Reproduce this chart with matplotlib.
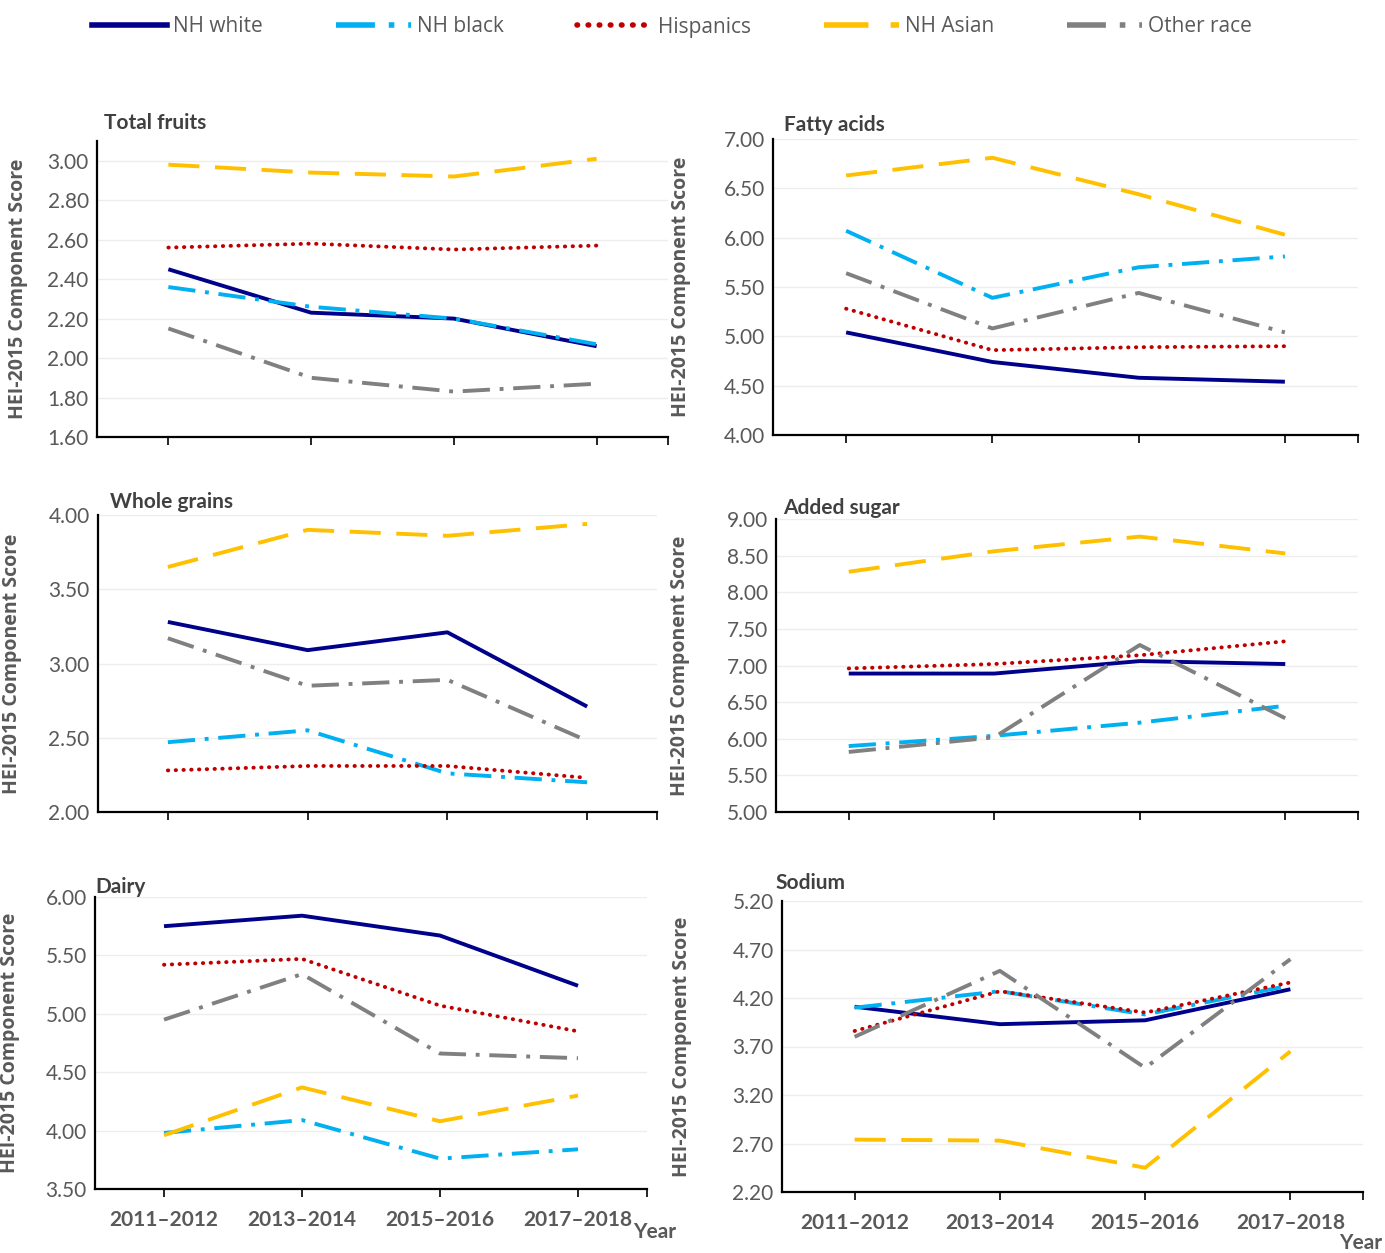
import numpy as np
import matplotlib.pyplot as plt
from matplotlib import font_manager
from matplotlib.lines import Line2D

# --- data -------------------------------------------------------------
years = ["2011\u20132012", "2013\u20132014", "2015\u20132016", "2017\u20132018"]
groups = ["NH white", "NH black", "Hispanics", "NH Asian", "Other race"]

fruits_white = [2.45, 2.23, 2.20, 2.06]
fruits_black = [2.36, 2.26, 2.20, 2.07]
fruits_hisp = [2.56, 2.58, 2.55, 2.57]
fruits_asian = [2.98, 2.94, 2.92, 3.01]
fruits_other = [2.15, 1.90, 1.83, 1.87]

fatty_white = [5.04, 4.74, 4.58, 4.54]
fatty_black = [6.07, 5.39, 5.70, 5.81]
fatty_hisp = [5.28, 4.86, 4.89, 4.90]
fatty_asian = [6.63, 6.81, 6.44, 6.03]
fatty_other = [5.64, 5.08, 5.44, 5.04]

grains_white = [3.28, 3.09, 3.21, 2.71]
grains_black = [2.47, 2.55, 2.26, 2.20]
grains_hisp = [2.28, 2.31, 2.31, 2.23]
grains_asian = [3.65, 3.90, 3.86, 3.94]
grains_other = [3.17, 2.85, 2.89, 2.48]

sugar_white = [6.89, 6.89, 7.06, 7.02]
sugar_black = [5.90, 6.04, 6.22, 6.45]
sugar_hisp = [6.96, 7.02, 7.14, 7.33]
sugar_asian = [8.28, 8.56, 8.76, 8.53]
sugar_other = [5.82, 6.02, 7.28, 6.28]

dairy_white = [5.75, 5.84, 5.67, 5.24]
dairy_black = [3.98, 4.09, 3.76, 3.84]
dairy_hisp = [5.42, 5.47, 5.07, 4.85]
dairy_asian = [3.96, 4.37, 4.08, 4.30]
dairy_other = [4.95, 5.34, 4.66, 4.62]

sodium_white = [4.11, 3.93, 3.97, 4.29]
sodium_black = [4.10, 4.27, 4.03, 4.33]
sodium_hisp = [3.86, 4.27, 4.05, 4.36]
sodium_asian = [2.74, 2.73, 2.45, 3.65]
sodium_other = [3.80, 4.48, 3.48, 4.60]

panels = [
    ("Total fruits", [fruits_white, fruits_black, fruits_hisp, fruits_asian, fruits_other],
     (1.6, 3.1), np.arange(1.6, 3.01, 0.2)),
    ("Fatty acids", [fatty_white, fatty_black, fatty_hisp, fatty_asian, fatty_other],
     (4.0, 7.0), np.arange(4.0, 7.01, 0.5)),
    ("Whole grains", [grains_white, grains_black, grains_hisp, grains_asian, grains_other],
     (2.0, 4.0), np.arange(2.0, 4.01, 0.5)),
    ("Added sugar", [sugar_white, sugar_black, sugar_hisp, sugar_asian, sugar_other],
     (5.0, 9.0), np.arange(5.0, 9.01, 0.5)),
    ("Dairy", [dairy_white, dairy_black, dairy_hisp, dairy_asian, dairy_other],
     (3.5, 6.0), np.arange(3.5, 6.01, 0.5)),
    ("Sodium", [sodium_white, sodium_black, sodium_hisp, sodium_asian, sodium_other],
     (2.2, 5.2), np.arange(2.2, 5.21, 0.5)),
]

# --- styles -----------------------------------------------------------
colors = ["#00008B", "#00B0F0", "#C00000", "#FFC000", "#808080"]
dashes = [None, (7, 2.5, 1, 2.5), (0.1, 1.9), (8, 4), (7, 2.5, 1, 2.5)]
LW = 2.8
GRAY = "#595959"

installed = {f.name for f in font_manager.fontManager.ttflist}
narrow = "Liberation Sans Narrow" if "Liberation Sans Narrow" in installed else "Lato"
label_font = "Open Sans"

W, H = 1385, 1253
fig = plt.figure(figsize=(W / 100, H / 100), dpi=100)

# axes boxes in pixels: left, right, top, bottom
boxes = [(97, 668, 141, 437), (773, 1358, 139, 435),
         (98, 657, 515, 812), (776, 1358, 519, 812),
         (95, 647, 897, 1189), (782, 1363, 901, 1192)]
ylabel_x = [28, 691, 22, 690, 20, 692]
title_pos = [(104, 123), (784, 125), (110, 502), (783, 508), (95, 887), (775, 883)]

x = np.arange(len(years))
for i, (title, series, ylim, yticks) in enumerate(panels):
    l, r, t, b = boxes[i]
    ax = fig.add_axes([l / W, 1 - b / H, (r - l) / W, (b - t) / H])
    for vals, c, d in zip(series, colors, dashes):
        line, = ax.plot(x, vals, color=c, lw=LW, solid_capstyle="butt")
        if d is not None:
            line.set_dashes(d)
            line.set_dash_capstyle("round" if d[0] < 1 else "butt")
    ax.set_xlim(-0.5, 3.5)
    ax.set_ylim(*ylim)
    ax.set_yticks(yticks)
    ax.set_yticklabels([f"{v:.2f}" for v in yticks], fontfamily=narrow,
                       fontsize=15, color=GRAY)
    ax.tick_params(axis="y", length=0, pad=6)
    ax.set_xticks(x)
    ax.set_xticks([3.5], minor=True)
    ax.tick_params(axis="x", which="both", direction="out", length=6, width=1.2,
                   color="black")
    if i >= 4:
        ax.set_xticklabels(years, fontfamily=narrow, fontsize=15, fontweight="bold",
                           color=GRAY)
        ax.tick_params(axis="x", pad=9)
    else:
        ax.set_xticklabels([])
    ax.grid(axis="y", color="#EDEDED", lw=1)
    ax.set_axisbelow(True)
    for s in ["top", "right"]:
        ax.spines[s].set_visible(False)
    for s in ["left", "bottom"]:
        ax.spines[s].set_linewidth(1.6)
        ax.spines[s].set_color("black")
    ax.set_ylabel("HEI-2015 Component Score", fontfamily=label_font, fontsize=14,
                  fontweight="bold", color=GRAY)
    ax.yaxis.set_label_coords((ylabel_x[i] - l) / (r - l), 0.5)
    tx, ty = title_pos[i]
    fig.text(tx / W, 1 - ty / H, title, fontfamily=narrow, fontsize=15,
             fontweight="bold", color="#404040", ha="left", va="center")

fig.text(655 / W, 1 - 1232 / H, "Year", fontfamily=narrow, fontsize=15,
         fontweight="bold", color=GRAY, ha="center", va="center")
fig.text(1361 / W, 1 - 1243 / H, "Year", fontfamily=narrow, fontsize=15,
         fontweight="bold", color=GRAY, ha="center", va="center")

# legend
handles = []
for c, d in zip(colors, dashes):
    h = Line2D([], [], color=c, lw=4)
    if d is not None:
        h.set_dashes(d)
        h.set_dash_capstyle("round" if d[0] < 1 else "butt")
    handles.append(h)
leg = fig.legend(handles, groups, loc="center", bbox_to_anchor=(672 / W, 1 - 27 / H),
                 ncol=5, frameon=False, handlelength=3.6, columnspacing=3.5,
                 handletextpad=0.3, prop={"family": label_font, "size": 15})
for txt in leg.get_texts():
    txt.set_color(GRAY)

fig.savefig("out.png", dpi=100)
